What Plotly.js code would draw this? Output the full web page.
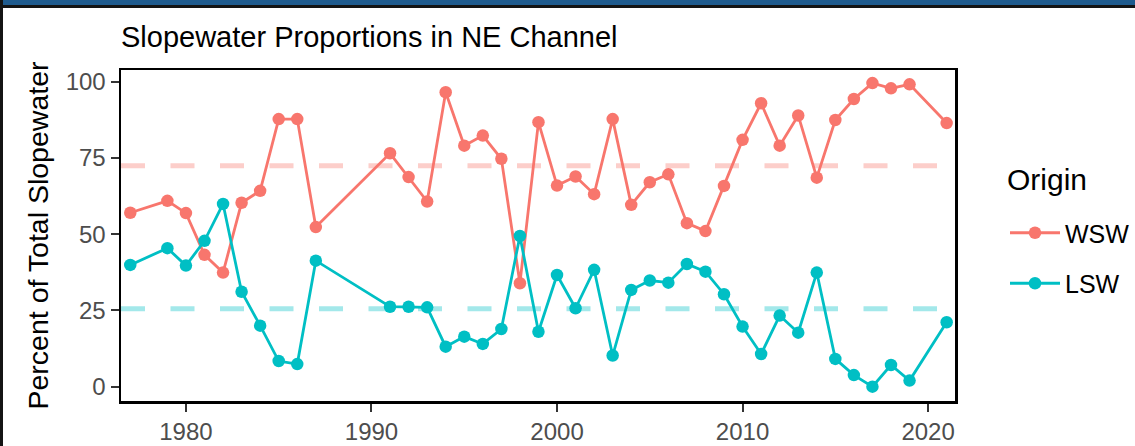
<!DOCTYPE html>
<html>
<head>
<meta charset="utf-8">
<script src="https://cdn.plot.ly/plotly-3.0.1.min.js"></script>
<style>
  html, body { margin: 0; padding: 0; background: #ffffff; }
  #wrap { position: relative; width: 1135px; height: 446px; overflow: hidden; }
  #chart { width: 1135px; height: 446px; }
  .frame-top { position: absolute; left: 0; top: 0; width: 1135px; height: 5px; background: #1f5b8e; }
  .frame-line { position: absolute; left: 0; top: 5px; width: 1135px; height: 3px; background: #141414; }
  .frame-left { position: absolute; left: 0; top: 0; width: 3px; height: 446px; background: #141414; }
</style>
</head>
<body>
<div id="wrap">
  <div id="chart"></div>
  <div class="frame-top"></div>
  <div class="frame-line"></div>
  <div class="frame-left"></div>
</div>
<script>
// Years with observations
const years = [1977, 1979, 1980, 1981, 1982, 1983, 1984, 1985, 1986, 1987,
               1991, 1992, 1993, 1994, 1995, 1996, 1997, 1998, 1999, 2000,
               2001, 2002, 2003, 2004, 2005, 2006, 2007, 2008, 2009, 2010,
               2011, 2012, 2013, 2014, 2015, 2016, 2017, 2018, 2019, 2021];

// Warm Slope Water (percent of total slopewater)
const wsw = [57.0, 60.9, 56.9, 43.2, 37.4, 60.3, 64.2, 87.7, 87.7, 52.3,
             76.5, 68.7, 60.7, 96.5, 79.0, 82.3, 74.7, 33.9, 86.7, 65.9,
             68.9, 63.1, 87.7, 59.6, 67.0, 69.6, 53.6, 51.0, 65.8, 80.9,
             92.9, 79.0, 88.9, 68.5, 87.4, 94.3, 99.5, 97.8, 99.1, 86.4];

// Labrador Slope Water (percent of total slopewater)
const lsw = [39.9, 45.4, 39.7, 47.8, 59.9, 31.1, 20.0, 8.4, 7.4, 41.3,
             26.2, 26.2, 26.0, 13.1, 16.4, 14.0, 18.9, 49.4, 18.0, 36.6,
             25.7, 38.3, 10.2, 31.7, 34.8, 34.1, 40.2, 37.7, 30.3, 19.7,
             10.7, 23.3, 17.7, 37.4, 9.1, 3.8, 0.0, 7.1, 2.0, 21.1];

// Long-term means (dashed reference lines)
const seriesNames = ["WSW", "LSW"];
const seriesMeans = [72.4, 25.5];
const legendTitle = "Origin";

const xTickVals = [1980, 1990, 2000, 2010, 2020];
const yTickVals = [0, 25, 50, 75, 100];

const colors = ["#F8766D", "#00BFC4"];
const paleColors = ["rgba(248,118,109,0.36)", "rgba(0,191,196,0.36)"];
const FONT = "Liberation Sans, Arial, Helvetica, sans-serif";

const seriesValues = [wsw, lsw];
const traces = seriesNames.map((name, i) => ({
  type: "scatter",
  mode: "lines+markers",
  name: name,
  x: years,
  y: seriesValues[i],
  legendgroup: name,
  line: { color: colors[i], width: 2.8 },
  marker: { color: colors[i], size: 12.5 },
  hoverinfo: "x+y+name"
}));

const shapes = seriesMeans.map((m, i) => ({
  type: "line",
  xref: "paper", x0: 0, x1: 1,
  yref: "y", y0: m, y1: m,
  layer: "below",
  line: { color: paleColors[i], width: 5, dash: "24px,25.5px" }
}));

const layout = {
  width: 1135,
  height: 446,
  margin: { l: 121, r: 180, t: 70, b: 45, pad: 0, autoexpand: false },
  paper_bgcolor: "#ffffff",
  plot_bgcolor: "#ffffff",
  font: { family: FONT, color: "#000000" },
  title: {
    text: "Slopewater Proportions in NE Channel",
    font: { family: FONT, size: 29, color: "#000000" },
    x: 0, xref: "paper", xanchor: "left",
    y: 1 - 37 / 446, yref: "container", yanchor: "middle"
  },
  xaxis: {
    range: [1976.5, 2021.45],
    tickvals: xTickVals,
    ticktext: xTickVals.map(String),
    showgrid: false,
    zeroline: false,
    showline: true, linecolor: "#000000", linewidth: 2.5, mirror: true,
    ticks: "outside", ticklen: 8, tickwidth: 2, tickcolor: "#333333",
    tickfont: { family: FONT, size: 24, color: "#4D4D4D" }
  },
  yaxis: {
    range: [-4.7, 103.8],
    tickvals: yTickVals,
    ticktext: yTickVals.map(String),
    showgrid: false,
    zeroline: false,
    showline: true, linecolor: "#000000", linewidth: 2.5, mirror: true,
    ticks: "outside", ticklen: 8, tickwidth: 2, tickcolor: "#333333",
    tickfont: { family: FONT, size: 24, color: "#4D4D4D" },
    title: { text: "Percent of Total Slopewater", font: { family: FONT, size: 28.5, color: "#000000" }, standoff: 9 }
  },
  shapes: shapes,
  annotations: [{
    text: legendTitle,
    xref: "paper", x: (1005 - 121) / 834, xanchor: "left",
    yref: "paper", y: (401 - 179) / 331, yanchor: "middle",
    showarrow: false,
    font: { family: FONT, size: 30, color: "#000000" }
  }],
  showlegend: true,
  legend: {
    x: (1005 - 121) / 834, xanchor: "left",
    y: (401 - 210) / 331, yanchor: "top",
    bgcolor: "rgba(0,0,0,0)",
    font: { family: FONT, size: 25, color: "#000000" },
    itemwidth: 50,
    tracegroupgap: 15,
    traceorder: "grouped"
  }
};

Plotly.newPlot("chart", traces, layout, { displayModeBar: false, staticPlot: true });
</script>
</body>
</html>
